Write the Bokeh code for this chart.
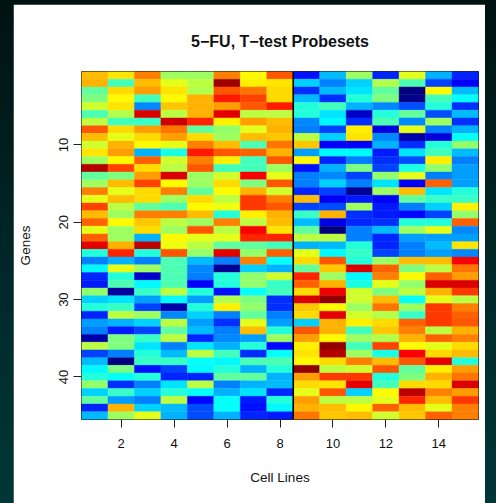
import numpy as np
from bokeh.plotting import figure
from bokeh.models import (ColumnDataSource, LinearColorMapper, FixedTicker, Range1d,
                          Span, GlobalInlineStyleSheet)
from bokeh.transform import transform
from bokeh.embed import file_html
from bokeh.resources import INLINE

# ---------------- data (0..100 colour scale) ----------------
cell_lines = list(range(1, 16))
x_ticks = [2, 4, 6, 8, 10, 12, 14]
y_ticks = [10, 20, 30, 40]
split_at = 8.5

gene_01 = [69, 65, 75, 53, 53, 75, 63, 79, 14, 31, 53, 16, 60, 30, 16]
gene_02 = [70, 44, 69, 60, 56, 97, 64, 65, 33, 25, 33, 55, 45, 19, 12]
gene_03 = [47, 66, 72, 65, 55, 79, 76, 66, 17, 31, 35, 47, 0, 63, 31]
gene_04 = [50, 63, 44, 63, 70, 85, 81, 66, 31, 17, 41, 50, 1, 44, 38]
gene_05 = [58, 65, 26, 68, 70, 72, 79, 85, 41, 44, 30, 26, 20, 41, 17]
gene_06 = [45, 55, 91, 56, 70, 90, 56, 56, 41, 35, 7, 41, 47, 20, 31]
gene_07 = [56, 44, 43, 92, 84, 64, 72, 69, 26, 37, 17, 45, 26, 53, 17]
gene_08 = [79, 66, 72, 76, 47, 52, 60, 70, 25, 19, 64, 10, 60, 25, 30]
gene_09 = [69, 60, 66, 72, 66, 53, 69, 68, 56, 33, 65, 26, 4, 9, 38]
gene_10 = [58, 70, 63, 60, 75, 69, 45, 76, 68, 12, 12, 30, 17, 41, 52]
gene_11 = [65, 72, 30, 40, 85, 79, 78, 70, 28, 37, 37, 15, 35, 44, 31]
gene_12 = [53, 63, 78, 58, 75, 64, 44, 79, 63, 16, 25, 17, 20, 64, 25]
gene_13 = [95, 81, 66, 56, 79, 44, 44, 53, 14, 30, 50, 19, 40, 52, 28]
gene_14 = [47, 50, 72, 91, 53, 58, 88, 60, 25, 26, 19, 52, 60, 25, 28]
gene_15 = [53, 69, 81, 63, 53, 66, 50, 79, 25, 33, 25, 35, 12, 78, 28]
gene_16 = [75, 60, 66, 75, 47, 63, 70, 58, 16, 19, 2, 53, 69, 35, 41]
gene_17 = [60, 69, 66, 53, 66, 56, 82, 75, 69, 12, 15, 12, 47, 43, 43]
gene_18 = [81, 56, 47, 45, 63, 61, 82, 79, 19, 20, 53, 15, 25, 33, 64]
gene_19 = [69, 53, 75, 75, 69, 41, 64, 70, 43, 70, 17, 15, 13, 19, 52]
gene_20 = [78, 63, 68, 56, 53, 75, 56, 69, 31, 10, 16, 17, 41, 41, 78]
gene_21 = [60, 53, 66, 53, 79, 56, 88, 65, 47, 0, 25, 31, 53, 60, 26]
gene_22 = [78, 53, 30, 63, 60, 60, 84, 84, 56, 56, 25, 16, 28, 28, 28]
gene_23 = [90, 70, 94, 61, 56, 47, 47, 44, 30, 31, 41, 16, 25, 31, 65]
gene_24 = [41, 84, 41, 79, 52, 90, 52, 78, 60, 37, 43, 19, 25, 28, 26]
gene_25 = [25, 30, 25, 45, 31, 25, 75, 38, 66, 79, 41, 53, 69, 69, 88]
gene_26 = [37, 60, 53, 45, 26, 2, 33, 30, 47, 68, 91, 78, 50, 56, 76]
gene_27 = [16, 41, 7, 45, 25, 41, 52, 58, 84, 53, 37, 75, 63, 78, 72]
gene_28 = [15, 45, 37, 45, 12, 41, 52, 43, 78, 70, 40, 60, 52, 91, 91]
gene_29 = [52, 3, 43, 56, 41, 14, 38, 44, 66, 89, 58, 50, 56, 70, 82]
gene_30 = [33, 35, 28, 37, 28, 55, 50, 17, 91, 98, 58, 69, 38, 60, 56]
gene_31 = [41, 43, 19, 4, 41, 64, 52, 17, 68, 63, 53, 76, 53, 82, 75]
gene_32 = [16, 56, 53, 26, 33, 25, 47, 25, 66, 90, 58, 55, 43, 82, 78]
gene_33 = [28, 30, 33, 56, 28, 17, 60, 28, 33, 70, 64, 66, 78, 82, 79]
gene_34 = [25, 15, 19, 47, 31, 25, 69, 41, 79, 70, 44, 68, 75, 56, 70]
gene_35 = [4, 50, 43, 56, 16, 26, 28, 53, 72, 63, 53, 55, 70, 78, 75]
gene_36 = [56, 50, 35, 25, 35, 30, 41, 13, 64, 98, 44, 81, 63, 60, 66]
gene_37 = [19, 25, 41, 31, 56, 44, 17, 38, 65, 95, 53, 40, 88, 66, 69]
gene_38 = [31, 0, 43, 43, 38, 37, 45, 45, 63, 66, 75, 69, 79, 90, 41]
gene_39 = [37, 50, 14, 19, 37, 41, 30, 41, 98, 56, 58, 79, 47, 64, 72]
gene_40 = [41, 38, 41, 16, 16, 47, 47, 30, 72, 82, 82, 41, 50, 70, 76]
gene_41 = [52, 17, 25, 35, 56, 25, 30, 31, 66, 65, 90, 44, 66, 66, 91]
gene_42 = [33, 43, 33, 41, 38, 30, 35, 16, 60, 79, 33, 63, 94, 75, 72]
gene_43 = [47, 28, 25, 56, 13, 38, 15, 41, 72, 56, 56, 60, 84, 69, 82]
gene_44 = [16, 70, 33, 31, 20, 38, 14, 37, 70, 69, 63, 78, 69, 60, 75]
gene_45 = [31, 53, 60, 30, 20, 30, 16, 15, 76, 68, 69, 58, 68, 78, 75]

gene_rows = [gene_01, gene_02, gene_03, gene_04, gene_05, gene_06, gene_07, gene_08, gene_09,
             gene_10, gene_11, gene_12, gene_13, gene_14, gene_15, gene_16, gene_17, gene_18,
             gene_19, gene_20, gene_21, gene_22, gene_23, gene_24, gene_25, gene_26, gene_27,
             gene_28, gene_29, gene_30, gene_31, gene_32, gene_33, gene_34, gene_35, gene_36,
             gene_37, gene_38, gene_39, gene_40, gene_41, gene_42, gene_43, gene_44, gene_45]

# ---------------- jet-like palette ----------------
stops = ["#00007F", "#0000FF", "#007FFF", "#00FFFF", "#7FFF7F",
         "#FFFF00", "#FF7F00", "#FF0000", "#7F0000"]


def ramp(cols, n):
    rgb = np.array([[int(c[i:i + 2], 16) for i in (1, 3, 5)] for c in cols], dtype=float)
    pos = np.linspace(0, 1, len(cols))
    out = []
    for t in np.linspace(0, 1, n):
        r = np.interp(t, pos, rgb[:, 0])
        g = np.interp(t, pos, rgb[:, 1])
        b = np.interp(t, pos, rgb[:, 2])
        out.append("#%02x%02x%02x" % (int(round(r)), int(round(g)), int(round(b))))
    return out


jet = ramp(stops, 101)

xs, ys, vs = [], [], []
for gi, row in enumerate(gene_rows):
    for ci, v in enumerate(row):
        xs.append(cell_lines[ci])
        ys.append(gi + 1)
        vs.append(v)
src = ColumnDataSource(dict(x=xs, y=ys, v=vs))
mapper = LinearColorMapper(palette=jet, low=0, high=100)

FONT = "Liberation Sans"

p = figure(width=472, height=499, output_backend="svg", toolbar_location=None,
           x_range=Range1d(0.5, 15.5), y_range=Range1d(len(gene_rows) + 0.5, 0.5),
           min_border_left=68, min_border_right=7, min_border_top=67, min_border_bottom=84,
           title="5\u2212FU, T\u2212test Probesets")

p.rect(x="x", y="y", width=1, height=1, source=src,
       fill_color=transform("v", mapper), line_color=transform("v", mapper), line_width=0.4)

p.add_layout(Span(location=split_at, dimension="height", line_color="black", line_width=1.6))

p.background_fill_color = "white"
p.border_fill_color = "white"
p.outline_line_color = "#222222"
p.outline_line_width = 1
p.xgrid.visible = False
p.ygrid.visible = False

p.title.align = "center"
p.title.text_font = FONT
p.title.text_font_size = "16px"
p.title.text_font_style = "bold"
p.title.text_color = "#111111"
p.title.standoff = 43

for ax in (p.xaxis, p.yaxis):
    ax.axis_line_color = None
    ax.major_tick_in = 0
    ax.major_tick_out = 8
    ax.major_tick_line_color = "#222222"
    ax.minor_tick_line_color = None
    ax.major_label_text_font = FONT
    ax.major_label_text_font_size = "13px"
    ax.major_label_text_color = "#111111"
    ax.axis_label_text_font = FONT
    ax.axis_label_text_font_size = "13.5px"
    ax.axis_label_text_font_style = "normal"
    ax.axis_label_text_color = "#111111"

p.xaxis.ticker = FixedTicker(ticks=x_ticks)
p.yaxis.ticker = FixedTicker(ticks=y_ticks)
p.yaxis.major_label_orientation = "vertical"
p.xaxis.axis_label = "Cell Lines"
p.yaxis.axis_label = "Genes"
p.xaxis.major_label_standoff = 11
p.yaxis.major_label_standoff = 5
p.xaxis.axis_label_standoff = 19
p.yaxis.axis_label_standoff = 24

p.stylesheets = [GlobalInlineStyleSheet(css=(
    "html, body { margin: 0; padding: 0; overflow: hidden; "
    "background: linear-gradient(to bottom, #001212 0%, #002a2a 60%, #003636 100%); }"
    "body { padding: 4px 0 0 13px; }"))]

open("out.html", "w").write(file_html(p, INLINE))
